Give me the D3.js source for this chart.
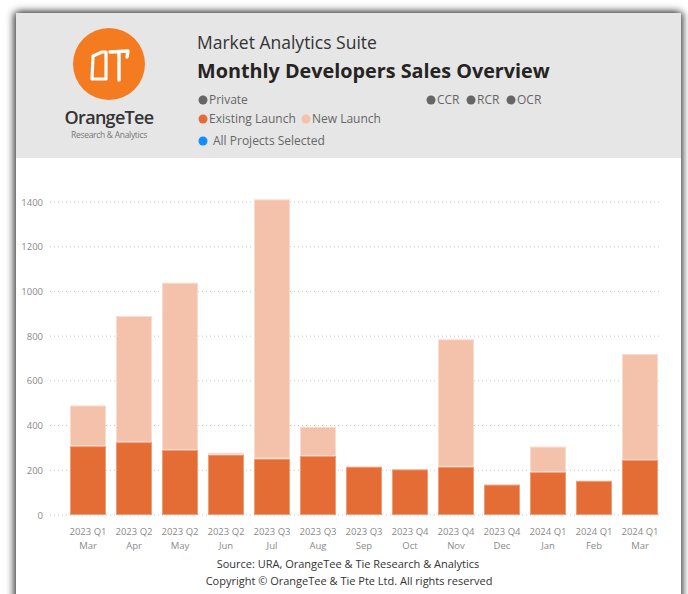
<!DOCTYPE html>
<html>
<head>
<meta charset="utf-8">
<script src="https://cdn.jsdelivr.net/npm/d3@7"></script>
<style>
  body { margin: 0; background: #fff; overflow: hidden; }
  #card { position: absolute; left: 16px; top: 13px; width: 665px; height: 600px;
          background: #fff; box-shadow: -3px 0 7px rgba(0,0,0,0.55), 3px 0 6px rgba(0,0,0,0.45), 0 -3px 8px rgba(0,0,0,0.3); }
  svg { position: absolute; left: 0; top: 0; }
  text { font-family: "Open Sans", "Noto Sans", sans-serif; }
</style>
</head>
<body>
<div id="card"></div>
<script>
svgWidth = 688
svgHeight = 594
margin = {"top": 202, "bottom": 79, "left": 65, "right": 25}

// data
var months = ['Mar', 'Apr', 'May', 'Jun', 'Jul', 'Aug', 'Sep', 'Oct', 'Nov', 'Dec', 'Jan', 'Feb', 'Mar']
var quarters = ['2023 Q1', '2023 Q2', '2023 Q2', '2023 Q2', '2023 Q3', '2023 Q3', '2023 Q3',
                '2023 Q4', '2023 Q4', '2023 Q4', '2024 Q1', '2024 Q1', '2024 Q1']
var existingLaunch = [308, 326, 291, 270, 252, 264, 216, 204, 216, 136, 192, 153, 246]
var newLaunch = [182, 564, 748, 9, 1160, 131, 0, 0, 570, 0, 114, 0, 474]
var yTicks = [0, 200, 400, 600, 800, 1000, 1200, 1400]

var colExisting = '#e46c35'
var colNew = '#f4c2ab'

var data1 = months.map(function(m, i) {
  return {key: i, month: m, quarter: quarters[i], existing: existingLaunch[i], fresh: newLaunch[i]}
})

var svg = d3.select('body').append('svg')
          .attr('width', svgWidth)
          .attr('height', svgHeight)

// header band
svg.append('rect')
    .attr('x', 16).attr('y', 13)
    .attr('width', 665).attr('height', 145)
    .attr('fill', '#e6e6e6')

// logo
var logo = svg.append('g')
logo.append('circle')
    .attr('cx', 109).attr('cy', 64).attr('r', 36)
    .attr('fill', '#f47b20')
logo.append('path')
    .attr('d', 'M93 56 L102 52 L106 52 L106 79 L92 79 Z')
    .attr('fill', 'none').attr('stroke', '#fff').attr('stroke-width', 3.2)
    .attr('stroke-linejoin', 'round')
logo.append('path')
    .attr('d', 'M110 52 L128 51 L127 57 M119 52 L119 80')
    .attr('fill', 'none').attr('stroke', '#fff').attr('stroke-width', 3.4)
    .attr('stroke-linejoin', 'round').attr('stroke-linecap', 'round')
logo.append('text')
    .attr('x', 109).attr('y', 124)
    .attr('text-anchor', 'middle')
    .attr('font-size', 18).attr('font-weight', 600)
    .attr('letter-spacing', -0.7)
    .attr('fill', '#333')
    .text('OrangeTee')
logo.append('text')
    .attr('x', 109).attr('y', 138)
    .attr('text-anchor', 'middle')
    .attr('font-size', 8.5)
    .attr('fill', '#777')
    .attr('letter-spacing', -0.3)
    .text('Research & Analytics')

// titles
svg.append('text')
    .attr('x', 197).attr('y', 49)
    .attr('font-size', 17.5)
    .attr('fill', '#333')
    .text('Market Analytics Suite')
svg.append('text')
    .attr('x', 197).attr('y', 78)
    .attr('font-size', 19.8)
    .attr('font-weight', 700)
    .attr('fill', '#252423')
    .text('Monthly Developers Sales Overview')

// legend rows
var legendItems = [
  {x: 203, y: 100, c: '#666', t: 'Private', dx: 6},
  {x: 203, y: 119, c: colExisting, t: 'Existing Launch', dx: 6},
  {x: 306, y: 119, c: colNew, t: 'New Launch', dx: 6},
  {x: 203, y: 141, c: '#118dff', t: 'All Projects Selected', dx: 10},
  {x: 431, y: 100, c: '#666', t: 'CCR', dx: 6},
  {x: 471, y: 100, c: '#666', t: 'RCR', dx: 6},
  {x: 511, y: 100, c: '#666', t: 'OCR', dx: 6}
]
var lg = svg.selectAll('.legend')
    .data(legendItems)
    .enter().append('g')
      .attr('class', 'legend')
      .attr('transform', function(d) { return 'translate(' + d.x + ',' + d.y + ')' })
lg.append('circle')
    .attr('r', 4.5)
    .attr('fill', function(d) { return d.c })
lg.append('text')
    .attr('x', function(d) { return d.dx })
    .attr('y', 4)
    .attr('font-size', 12)
    .attr('fill', '#666')
    .text(function(d) { return d.t })

// scales
yScale = d3.scaleLinear()
            .domain([0, 1400])
            .range([svgHeight - margin.bottom, margin.top])

xScale = d3.scaleBand()
            .domain(d3.range(months.length))
            .range([margin.left, svgWidth - margin.right])
            .paddingInner(0.217)
            .paddingOuter(0.1085)

// gridlines
svg.append('g')
    .selectAll('line')
    .data(yTicks)
    .enter().append('line')
      .attr('x1', 50).attr('x2', 661)
      .attr('y1', function(d) { return yScale(d) })
      .attr('y2', function(d) { return yScale(d) })
      .attr('stroke', '#c8c8c8')
      .attr('stroke-width', 1)
      .attr('stroke-dasharray', '1,3')

yAxis = d3.axisLeft(yScale)
            .tickValues(yTicks)
            .tickFormat(d3.format('d'))
            .tickSize(0)
            .tickPadding(0)

svg.append('g')
    .attr('transform', 'translate(43, 0)')
    .call(yAxis)
    .call(function(g) { g.select('.domain').remove() })
    .selectAll('text')
      .attr('font-family', '"Open Sans", sans-serif')
      .attr('font-size', 9.5)
      .attr('fill', '#8a8a8a')

// stacked bars
var stack = d3.stack().keys(['existing', 'fresh'])
var series = stack(data1)
var colors = [colExisting, colNew]

svg.append('g')
    .selectAll('g')
    .data(series)
    .enter().append('g')
      .attr('fill', function(d, i) { return colors[i] })
      .attr('stroke', function(d, i) { return i == 0 ? '#f19c76' : '#fadccf' })
      .attr('stroke-width', 1)
    .selectAll('rect')
    .data(function(d) { return d.filter(function(p) { return p[1] > p[0] }) })
    .enter().append('rect')
      .attr('x', function(d) { return xScale(d.data.key) + 0.5 })
      .attr('y', function(d) { return yScale(d[1]) + 0.5 })
      .attr('width', xScale.bandwidth() - 1)
      .attr('height', function(d) { return Math.max(0, yScale(d[0]) - yScale(d[1]) - 1) })

// x labels
xAxis = d3.axisBottom(xScale).tickSize(0).tickFormat('')
var xg = svg.append('g')
    .attr('transform', 'translate(0,' + (svgHeight - margin.bottom) + ')')
    .call(xAxis)
xg.select('.domain').remove()
xg.selectAll('.tick').each(function(d) {
  var t = d3.select(this)
  t.append('text').attr('y', 13).attr('dy', '0.71em').text(quarters[d])
  t.append('text').attr('y', 27).attr('dy', '0.71em').text(months[d])
})
xg.selectAll('text')
    .attr('font-family', '"Open Sans", sans-serif')
    .attr('font-size', 9.5)
    .attr('fill', '#8a8a8a')
    .attr('text-anchor', 'middle')

// footer
svg.append('text')
    .attr('x', 348).attr('y', 568)
    .attr('text-anchor', 'middle')
    .attr('font-size', 11)
    .attr('fill', '#333')
    .text('Source: URA, OrangeTee & Tie Research & Analytics')
svg.append('text')
    .attr('x', 349).attr('y', 585)
    .attr('text-anchor', 'middle')
    .attr('font-size', 11)
    .attr('fill', '#333')
    .text('Copyright © OrangeTee & Tie Pte Ltd. All rights reserved')
</script>
</body>
</html>
